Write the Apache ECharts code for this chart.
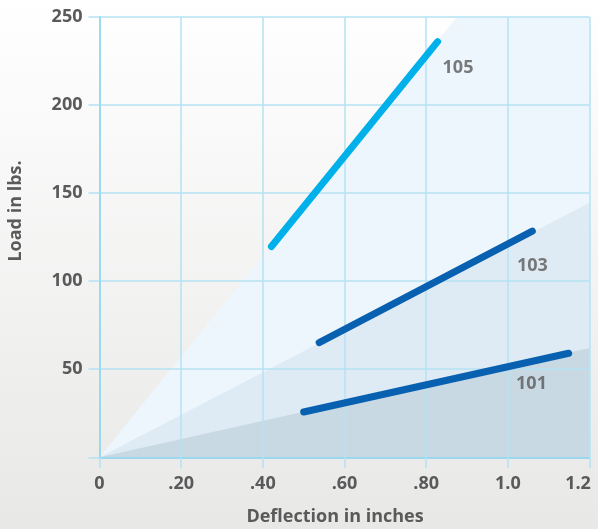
<!DOCTYPE html>
<html><head><meta charset="utf-8">
<script src="https://cdn.jsdelivr.net/npm/echarts@6/dist/echarts.min.js"></script>
<style>html,body{margin:0;padding:0;}#c{width:598px;height:529px;}</style>
</head><body><div id="c"></div>
<script>
// x tick labels
const xTickLabels = ['0', '.20', '.40', '.60', '.80', '1.0', '1.2'];
// background wedges (from origin)
const wedgeLight = [[0, 0], [0.875, 250], [1.2, 250]];
const wedgeMid = [[0, 0], [1.2, 144.5]];
const wedgeDark = [[0, 0], [1.2, 62]];
// series
const s105 = [[0.421, 119.7], [0.828, 236]];
const s103 = [[0.538, 65.1], [1.06, 128.4]];
const s101 = [[0.50, 25.7], [1.149, 59.1]];
// series labels
const labelNames = ['105', '103', '101'];
const labelPos = [[0.878, 221], [1.06, 108.7], [1.058, 41.6]];
const xName = 'Deflection in inches';
const yName = 'Load in lbs.';

const FONT = 'Open Sans';
const TXT = '#5a5a5a';
const chart = echarts.init(document.getElementById('c'));
function area(data, color) {
  return { type: 'line', data, symbol: 'none', silent: true, z: 1,
    lineStyle: { width: 0 }, areaStyle: { color, opacity: 1 } };
}
function seg(data, color) {
  return { type: 'line', data, symbol: 'none', z: 5,
    lineStyle: { width: 7, color, cap: 'round' } };
}
const gridLine = { color: '#b4e2f3', width: 1.5 };
const axisLn = { color: '#8fd3ef', width: 1.5 };
const labelFont = { fontFamily: FONT, fontWeight: 'bold', fontSize: 18, color: TXT };
chart.setOption({
  animation: false,
  backgroundColor: { type: 'linear', x: 0, y: 0, x2: 0, y2: 1,
    colorStops: [{ offset: 0, color: '#ffffff' }, { offset: 1, color: '#e8e8e7' }] },
  grid: { left: 99.5, right: 8.5, top: 17, bottom: 71.7, containLabel: false, outerBoundsMode: 'none' },
  graphic: [
    { type: 'text', x: 335, y: 517,
      style: { text: xName, textAlign: 'center', textVerticalAlign: 'middle', fill: TXT, font: 'bold 18px "Open Sans"' } },
    { type: 'text', x: 16, y: 211, rotation: Math.PI / 2,
      style: { text: yName, textAlign: 'center', textVerticalAlign: 'middle', fill: TXT, font: 'bold 18px "Open Sans"' } }
  ],
  xAxis: {
    type: 'value', min: 0, max: 1.2, interval: 0.2, z: 3,
    axisLine: { show: true, lineStyle: axisLn },
    axisTick: { show: true, length: 11, lineStyle: gridLine },
    splitLine: { show: true, lineStyle: gridLine },
    axisLabel: { margin: 18, ...labelFont,
      formatter: (v) => { const i = Math.round(v / 0.2); return i === 6 ? '{last|' + xTickLabels[i] + '}' : xTickLabels[i]; },
      rich: { last: { ...labelFont, padding: [0, 23, 0, 0] } } }
  },
  yAxis: {
    type: 'value', min: 0, max: 250, interval: 50, z: 3,
    axisLine: { show: true, lineStyle: axisLn },
    axisTick: { show: true, length: 11, lineStyle: gridLine },
    splitLine: { show: true, lineStyle: gridLine },
    axisLabel: { margin: 17, ...labelFont,
      formatter: (v) => v === 0 ? '' : String(v) }
  },
  series: [
    area(wedgeLight, '#edf6fc'),
    area(wedgeMid, '#dfebf4'),
    area(wedgeDark, '#c9d9e3'),
    seg(s105, '#00b0ea'),
    seg(s103, '#0860b0'),
    seg(s101, '#0860b0'),
    { type: 'scatter', symbolSize: 0, z: 6,
      data: labelPos.map((p, i) => ({ value: p, name: labelNames[i] })),
      label: { show: true, position: 'inside', formatter: (p) => p.name, ...labelFont } }
  ]
});
</script></body></html>
